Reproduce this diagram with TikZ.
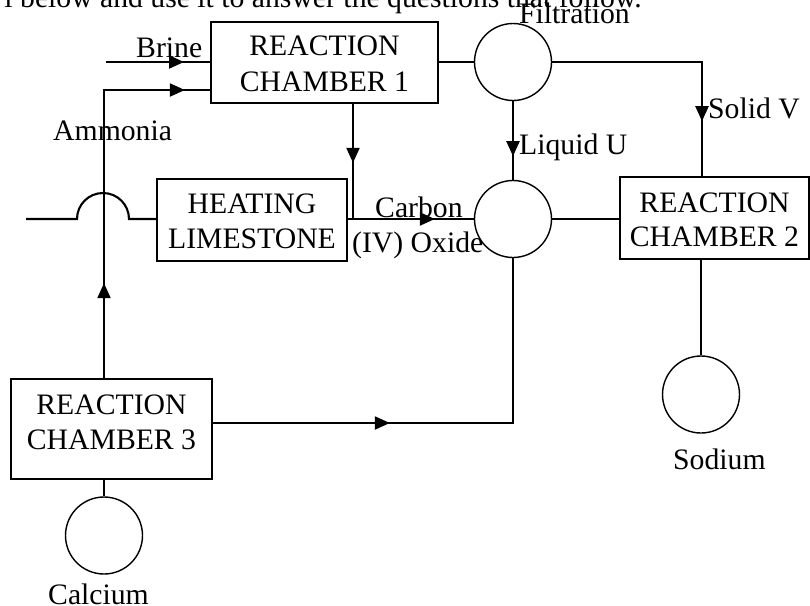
\documentclass[tikz,border=0pt]{standalone}
\usepackage{fontspec}
\setmainfont{Liberation Serif}
\usetikzlibrary{arrows.meta,decorations.markings}
\tikzset{
  conn/.style={line width=2.1pt},
  boxnode/.style={draw, line width=1.7pt, inner sep=0pt, rectangle},
  ring/.style={draw, line width=1.4pt, circle, inner sep=0pt, minimum size=77pt},
  txt/.style={inner sep=0pt, anchor=base west, font=\fontsize{29.7}{35}\selectfont},
  ctxt/.style={inner sep=0pt, anchor=base, font=\fontsize{29.7}{35}\selectfont},
  tipat/.style={postaction={decorate, decoration={markings,
      mark=at position #1 with {\arrow{Triangle[length=15pt,width=13pt]}}}}}
}
\begin{document}
\begin{tikzpicture}[x=1pt,y=-1pt]
\useasboundingbox (0,0) rectangle (810,605);
\clip (0,0) rectangle (810,605);
\fill[white] (0,0) rectangle (810,605);

% top (cut) sentence
\node[inner sep=0pt, anchor=base east, font=\fontsize{29.7}{35}\selectfont] (top) at (642,7) {l below and use it to answer the questions that follow.};

% boxes
\node[boxnode, minimum width=227pt, minimum height=81pt] (rc1) at (324.5,62.5) {};
\node[ctxt] (rc1a) at (324.5,55) {REACTION};
\node[ctxt] (rc1b) at (324.5,91) {CHAMBER 1};

\node[boxnode, minimum width=190pt, minimum height=82pt] (heat) at (252,220) {};
\node[ctxt] (heata) at (252,213) {HEATING};
\node[ctxt] (heatb) at (252,248) {LIMESTONE};

\node[boxnode, minimum width=189pt, minimum height=82pt] (rc2) at (714.5,218) {};
\node[ctxt] (rc2a) at (714.5,212) {REACTION};
\node[ctxt] (rc2b) at (714.5,246) {CHAMBER 2};

\node[boxnode, minimum width=201pt, minimum height=100pt] (rc3) at (111.5,429) {};
\node[ctxt] (rc3a) at (111.5,414) {REACTION};
\node[ctxt] (rc3b) at (111.5,449) {CHAMBER 3};

% circles
\node[ring] (filt) at (513,62) {};
\node[ring] (c2) at (513,219) {};
\node[ring] (na) at (701,394.5) {};
\node[ring] (ca) at (104,535.5) {};

% coordinates
\coordinate (brine) at (106,62);
\coordinate (amc) at (104,90);
\coordinate (hl) at (26,219);
\coordinate (cj) at (353,219);
\coordinate (svc) at (702,62);
\coordinate (bj) at (513,423);

% connectors
\draw[conn, tipat=78pt] (brine) -- (brine -| rc1.west);
\draw[conn, tipat=95pt, tipat=369pt] (rc3.north -| amc) -- (amc) -- (amc -| rc1.west);
\draw[conn] (hl) -- ++(51,0) arc[start angle=180, end angle=360, radius=26] -- (heat.west |- hl);
\draw[conn] (filt.west -| rc1.east) -- (filt.west);
\draw[conn, tipat=59pt] (rc1.south -| cj) -- (cj);
\draw[conn, tipat=87pt] (heat.east |- c2.west) -- (c2.west);
\draw[conn, tipat=209pt] (filt.east) -- (svc) -- (rc2.north -| svc);
\draw[conn, tipat=55pt] (filt.south) -- (c2.north);
\draw[conn] (c2.east) -- (rc2.west |- c2.east);
\draw[conn] (rc2.south -| na.north) -- (na.north);
\draw[conn, tipat=177pt] (rc3.east |- bj) -- (bj) -- (c2.south);
\draw[conn] (rc3.south -| ca.north) -- (ca.north);

% labels
\node[txt] (lbrine) at (136,57) {Brine};
\node[txt] (lamm) at (53,140) {Ammonia};
\node[txt] (lfilt) at (519,23) {Filtration};
\node[txt] (lliq) at (519,154) {Liquid U};
\node[txt] (lsol) at (708,118) {Solid V};
\node[txt] (lcarb) at (375,217) {Carbon};
\node[txt] (loxi) at (352,252) {(IV) Oxide};
\node[txt] (lna) at (673,469) {Sodium};
\node[txt] (lca) at (48,604) {Calcium};
\end{tikzpicture}
\end{document}
